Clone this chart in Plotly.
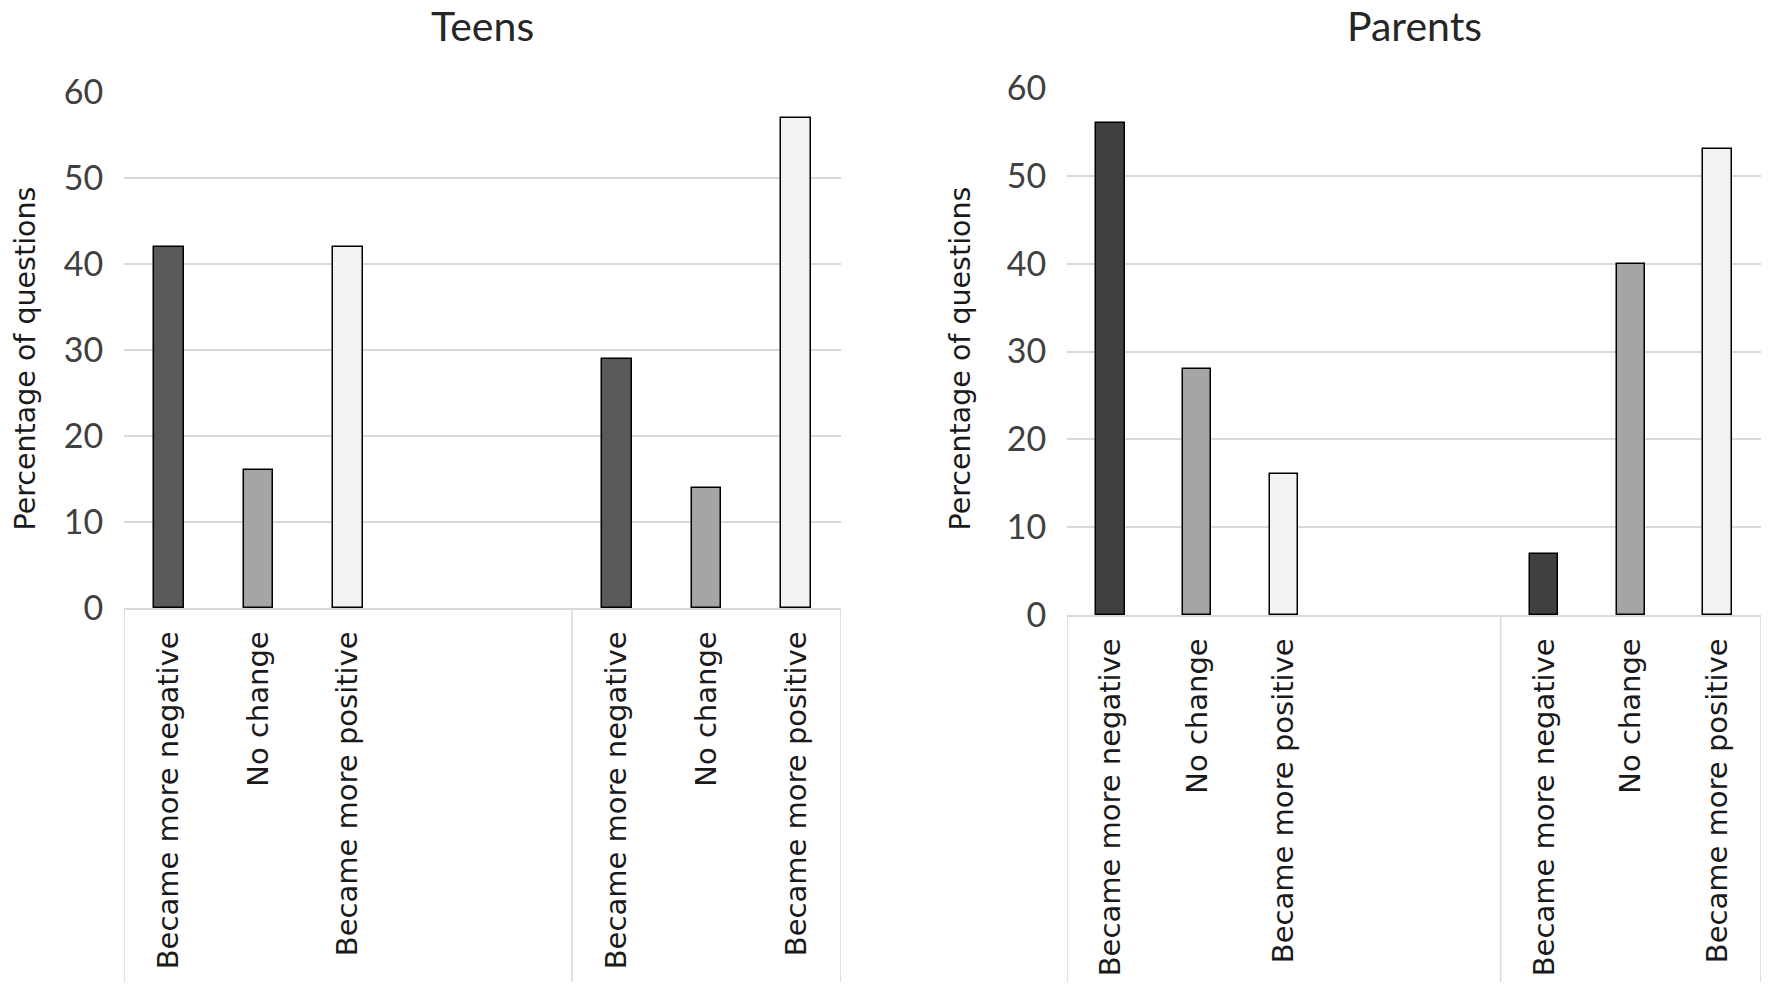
import plotly.graph_objects as go
from plotly.subplots import make_subplots

# data
categories = ['Became more negative', 'No change', 'Became more positive']
teens_first = [42, 16, 42]
teens_second = [29, 14, 57]
parents_first = [56, 28, 16]
parents_second = [7, 40, 53]
y_ticks = [0, 10, 20, 30, 40, 50, 60]
panel_titles = ['Teens', 'Parents']

teens_colors = ['#595959', '#a5a5a5', '#f2f2f2']
parents_colors = ['#404040', '#a5a5a5', '#f2f2f2']

# first group has 5 category slots (two blank), second has 3
group_slots = [5, 3]

W, H = 1770, 988
TICK_FONT = 'Lato, Open Sans, sans-serif'
LABEL_FONT = 'DejaVu Sans, Verdana, sans-serif'


def positions():
    xs = []
    start = 0
    for n in group_slots:
        xs += [start + i for i in range(len(categories))]
        start += n
    return xs


xs = positions()
n_total = sum(group_slots)

fig = make_subplots(rows=1, cols=2)

for col, (first, second, colors) in enumerate([
        (teens_first, teens_second, teens_colors),
        (parents_first, parents_second, parents_colors)], start=1):
    fig.add_trace(go.Bar(x=xs, y=first + second,
                         marker=dict(color=colors * 2,
                                     line=dict(color='#000000', width=1.5)),
                         width=0.33, showlegend=False),
                  row=1, col=col)

# plot areas in pixels: (left, right, top, bottom)
areas = [(124, 841, 92, 608), (1067, 1761, 88, 615)]

for i, (l, r, t, b) in enumerate(areas, start=1):
    xa = 'xaxis' if i == 1 else 'xaxis%d' % i
    ya = 'yaxis' if i == 1 else 'yaxis%d' % i
    fig.layout[xa].update(domain=[l / W, r / W],
                          range=[-0.5, n_total - 0.5], automargin=False,
                          tickmode='array', tickvals=xs,
                          ticktext=categories * 2, tickangle=-90,
                          tickfont=dict(family=LABEL_FONT, size=29, color='#1a1a1a'),
                          ticks='outside', ticklen=10, tickcolor='rgba(0,0,0,0)',
                          showline=True, linecolor='#d9d9d9', linewidth=1.5,
                          showgrid=False, zeroline=False, fixedrange=True)
    fig.layout[ya].update(domain=[1 - b / H, 1 - t / H], automargin=False,
                          range=[0, 60], tickmode='array', tickvals=y_ticks,
                          tickfont=dict(family=TICK_FONT, size=34, color='#404040'),
                          ticks='outside', ticklen=13, tickcolor='rgba(0,0,0,0)',
                          showgrid=True, gridcolor='#d9d9d9', gridwidth=1.5,
                          showline=False, zeroline=False, fixedrange=True)

    xref = 'x' if i == 1 else 'x%d' % i
    # group divider lines running down through the label area
    start = -0.5
    for edge in [0] + group_slots:
        start += edge
        fig.add_shape(type='line', xref=xref, yref='paper',
                      x0=start, x1=start, y0=1 - 982 / H, y1=1 - b / H,
                      line=dict(color='#d9d9d9', width=1.5))

    # panel title
    fig.add_annotation(text=panel_titles[i - 1], xref='paper', yref='paper',
                       x=(l + r) / 2 / W, y=1, xanchor='center',
                       yanchor='top', showarrow=False, borderpad=0,
                       font=dict(family=TICK_FONT, size=41, color='#262626'))

# y axis titles
for xc, (l, r, t, b) in zip([25, 960], areas):
    fig.add_annotation(text='Percentage of questions', textangle=-90,
                       xref='paper', yref='paper', x=xc / W,
                       y=1 - (186 + 531) / 2 / H, xanchor='center',
                       yanchor='middle', showarrow=False,
                       font=dict(family=LABEL_FONT, size=28.5, color='#1a1a1a'))

fig.update_layout(width=W, height=H, margin=dict(l=0, r=0, t=0, b=0),
                  plot_bgcolor='white', paper_bgcolor='white', bargap=0)

# drop the page's default body margin so the figure fills the window
fig.write_html('out.html', config={'displayModeBar': False},
               post_script="document.body.style.margin='0';")
